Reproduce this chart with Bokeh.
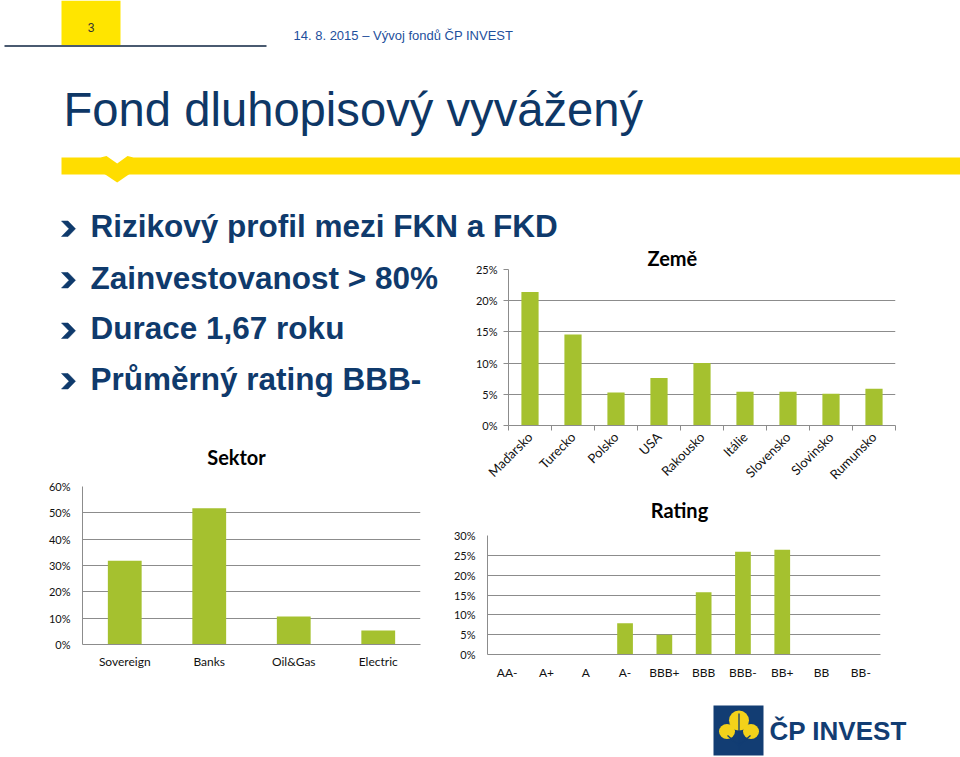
import math
from bokeh.plotting import figure
from bokeh.layouts import column, row
from bokeh.models import (Range1d, FactorRange, FixedTicker, NumeralTickFormatter,
                          LinearAxis, CategoricalAxis, ColumnDataSource)
from bokeh.core.properties import value
from bokeh.embed import file_html
from bokeh.resources import INLINE

# ---------------- data ----------------
zeme_countries = ["Maďarsko", "Turecko", "Polsko", "USA", "Rakousko", "Itálie", "Slovensko", "Slovinsko", "Rumunsko"]
zeme_values = [21.4, 14.6, 5.3, 7.6, 10.0, 5.4, 5.4, 5.1, 5.9]
zeme_ticks = [0, 5, 10, 15, 20, 25]

sektor_names = ["Sovereign", "Banks", "Oil&Gas", "Electric"]
sektor_values = [31.8, 51.7, 10.6, 5.3]
sektor_ticks = [0, 10, 20, 30, 40, 50, 60]

rating_grades = ["AA-", "A+", "A", "A-", "BBB+", "BBB", "BBB-", "BB+", "BB", "BB-"]
rating_values = [0, 0, 0, 7.9, 5.0, 15.7, 25.9, 26.4, 0, 0]
rating_ticks = [0, 5, 10, 15, 20, 25, 30]

page_number = "3"
header_text = "14. 8. 2015 – Vývoj fondů ČP INVEST"
slide_title = "Fond dluhopisový vyvážený"
bullets = ["Rizikový profil mezi FKN a FKD", "Zainvestovanost > 80%", "Durace 1,67 roku", "Průměrný rating BBB-"]
chart_titles = ["Země", "Sektor", "Rating"]
logo_text = "ČP INVEST"

# ---------------- styles ----------------
BAR = "#A5C12F"
GRID = "#8C8C8C"
NAVY = "#0F3A6C"
YELLOW = "#FFDD00"
ARIAL = "Liberation Sans"
CAL = "Lato"
TITLE_SIZE = 20


def canvas(x0, x1, y0, y1):
    p = figure(width=x1 - x0, height=y1 - y0, x_range=Range1d(x0, x1), y_range=Range1d(y1, y0),
               output_backend="svg", toolbar_location=None, x_axis_location=None, y_axis_location=None,
               min_border=0, outline_line_color=None, title_location=None)
    p.grid.visible = False
    p.background_fill_color = "white"
    p.border_fill_color = "white"
    return p


def txt(p, x, baseline, text, size, color, bold=False, align="left", font=ARIAL):
    # vertical middle of the line sits ~0.33em above the alphabetic baseline
    p.text(x=[x], y=[baseline - 0.33 * size], text=[text], text_font=value(font),
           text_font_size=f"{size}px", text_font_style="bold" if bold else "normal",
           text_align=align, text_baseline="middle", text_color=color)


def chevron(p, baseline):
    top = baseline - 15.5
    mid = baseline - 7.75
    xs = [61, 67.5, 75, 67.5, 61, 68.5]
    ys = [top, top, mid, baseline, baseline, mid]
    p.patch(xs, ys, fill_color=NAVY, line_color=NAVY, line_width=0.5)


# ---------------- header (0..243) ----------------
head = canvas(0, 960, 0, 243)
head.quad(left=61, right=120, top=0, bottom=44.5, fill_color="#FFE500", line_color=None)
head.quad(left=4, right=266, top=44.5, bottom=46.5, fill_color="#4A5A70", line_color=None)
txt(head, 90.5, 30.5, page_number, 12, "#333333", align="center")
txt(head, 293, 39.5, header_text, 13, "#1E4F9C")
txt(head, 63, 125, slide_title, 47.2, "#0E3766")
# yellow band with notch
head.patch([61, 100, 106, 116.7, 127, 133, 960, 960, 61], [157, 157, 155.5, 163, 155.5, 157, 157, 174, 174],
           fill_color=YELLOW, line_color=None)
head.patch([104, 129, 116.7], [173.5, 173.5, 182], fill_color=YELLOW, line_color=None)
chevron(head, 236)
txt(head, 90, 236, bullets[0], 31.5, NAVY, bold=True)

# ---------------- bullets (243..440, x 0..450) ----------------
bul = canvas(0, 450, 243, 440)
for b, yb in zip(bullets[1:], [287.5, 338, 388.5]):
    chevron(bul, yb)
    txt(bul, 90, yb, b, 31.5, NAVY, bold=True)


def style_y(p, ticks, standoff, tick_out):
    ax = p.yaxis[0]
    ax.ticker = FixedTicker(ticks=[t / 100 for t in ticks])
    ax.formatter = NumeralTickFormatter(format="0%")
    ax.axis_line_color = GRID
    ax.major_tick_line_color = GRID
    ax.major_tick_out = tick_out
    ax.major_tick_in = 0
    ax.minor_tick_line_color = None
    ax.major_label_standoff = standoff
    ax.major_label_text_font = CAL
    ax.major_label_text_font_size = "11px"
    ax.major_label_text_color = "#111111"
    p.ygrid.ticker = FixedTicker(ticks=[t / 100 for t in ticks])
    p.ygrid.grid_line_color = GRID
    p.xgrid.visible = False


def frame_fig(x_range, ymax, x0, x1, y0, y1, fl, fr, ft, fb, with_title=False):
    kw = {} if with_title else {"title_location": None}
    p = figure(width=x1 - x0, height=y1 - y0, x_range=x_range, y_range=Range1d(0, ymax / 100),
               output_backend="svg", toolbar_location=None, x_axis_location=None,
               min_border_left=fl - x0, min_border_right=x1 - fr, min_border_top=ft - y0,
               min_border_bottom=y1 - fb, outline_line_color=None, **kw)
    p.background_fill_color = "white"
    p.border_fill_color = "white"
    return p


def chart(factors, vals, ymax, x0, x1, y0, y1, fl, fr, ft, fb):
    p = frame_fig(FactorRange(*factors), ymax, x0, x1, y0, y1, fl, fr, ft, fb)
    src = ColumnDataSource(dict(cat=factors, val=[v / 100 for v in vals]))
    p.vbar(x="cat", top="val", width=0.4, source=src, fill_color=BAR, line_color=None)
    return p


def title_canvas(text, x0, x1, y0, y1, cx, baseline):
    c = canvas(x0, x1, y0, y1)
    txt(c, cx, baseline, text, TITLE_SIZE, "#000000", bold=True, align="center", font=CAL)
    return c


# ---------------- Země (x 450..960, y 243..490) ----------------
n = len(zeme_countries)
zeme = frame_fig(Range1d(0, n), 25, 450, 960, 243, 490, 508, 895, 268, 425, with_title=True)
zeme.title.text = chart_titles[0]
zeme.title.align = "left"
zeme.title.offset = 139
zeme.title.standoff = 0
zeme.title.text_font = CAL
zeme.title.text_font_style = "bold"
zeme.title.text_font_size = f"{TITLE_SIZE}px"
zeme.title.text_color = "#000000"
centers = [i + 0.5 for i in range(n)]
zsrc = ColumnDataSource(dict(x=centers, val=[v / 100 for v in zeme_values]))
zeme.vbar(x="x", top="val", width=0.4, source=zsrc, fill_color=BAR, line_color=None)
style_y(zeme, zeme_ticks, 6, 5)
cat_axis = LinearAxis(ticker=FixedTicker(ticks=centers, minor_ticks=list(range(n + 1))),
                      major_label_overrides={c: name for c, name in zip(centers, zeme_countries)},
                      axis_line_color=GRID, major_tick_line_color=None, major_tick_out=0, major_tick_in=0,
                      minor_tick_line_color=GRID, minor_tick_out=5, minor_tick_in=0,
                      major_label_standoff=4,
                      major_label_orientation=math.pi / 4, major_label_text_font=CAL,
                      major_label_text_font_size="13px", major_label_text_color="#111111")
zeme.add_layout(cat_axis, "below")

# ---------------- Sektor (x 0..450, y 440..757) ----------------
sek_t = title_canvas(chart_titles[1], 0, 450, 440, 470, 236, 463)
sek = chart(sektor_names, sektor_values, 60, 0, 450, 470, 757, 82, 420, 486, 644)
style_y(sek, sektor_ticks, 12, 0)
ax = CategoricalAxis(axis_line_color=GRID, major_tick_line_color=None, major_tick_out=0,
                     major_label_standoff=9,
                     major_label_text_font=CAL, major_label_text_font_size="12px",
                     major_label_text_color="#111111")
sek.add_layout(ax, "below")

# ---------------- Rating (x 450..960, y 490..690) ----------------
rat_t = title_canvas(chart_titles[2], 450, 960, 490, 522, 679, 516)
rat = chart(rating_grades, rating_values, 30, 450, 960, 522, 690, 486, 880, 535, 654)
style_y(rat, rating_ticks, 12, 0)
ax = CategoricalAxis(axis_line_color=GRID, major_tick_line_color=None, major_tick_out=0,
                     major_label_standoff=10,
                     major_label_text_font=CAL, major_label_text_font_size="12px",
                     major_label_text_color="#111111")
rat.add_layout(ax, "below")

# ---------------- logo (x 450..960, y 690..757) ----------------
logo = canvas(450, 960, 690, 757)
logo.quad(left=713, right=763, top=705, bottom=755, fill_color="#123D73", line_color=None)
logo.ellipse(x=[738.5, 726.5, 750.5], y=[720, 731, 731], width=[20, 16, 16], height=[20, 15, 15],
             fill_color="#F3D21A", line_color=None)
logo.multi_line(xs=[[738.5, 738.5], [738.5, 727], [738.5, 750]], ys=[[713, 751], [745, 735], [745, 735]],
                line_color="#123D73", line_width=1.3)
txt(logo, 769, 739.5, logo_text, 26, "#123D73", bold=True)

left = column(column(bul), column(sek_t), column(sek))
right = column(column(zeme), column(rat_t), column(rat), column(logo))
layout = column(head, row(left, right))

open("out.html", "w").write(file_html(layout, INLINE))
